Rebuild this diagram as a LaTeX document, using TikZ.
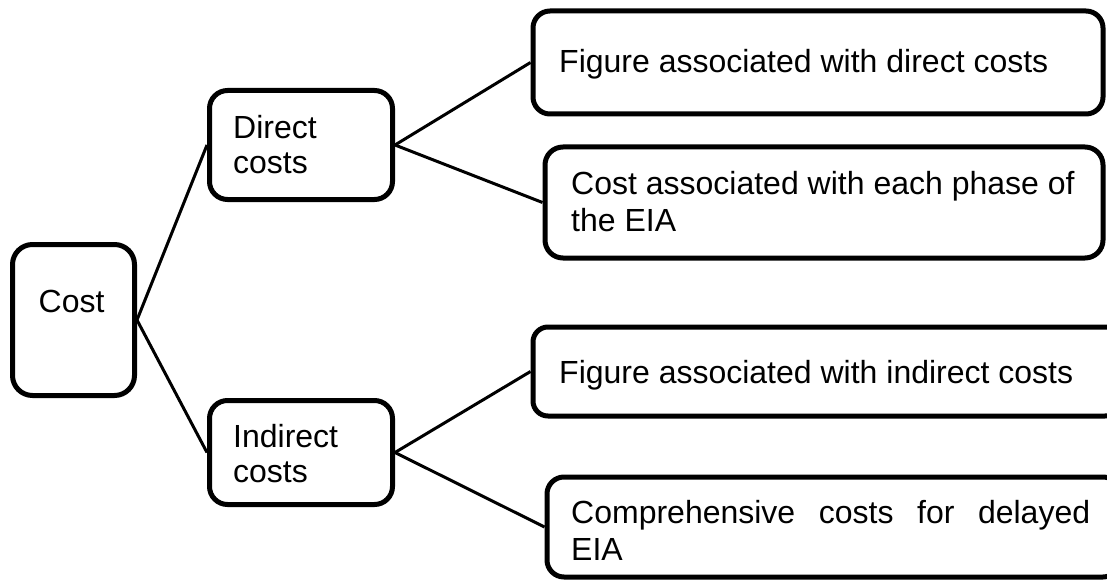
\documentclass[tikz,border=0pt]{standalone}
\usepackage{fontspec}
\setmainfont{Liberation Sans}
% two lines stacked with a given baseline distance; the baseline is the first line's
\newcommand{\stacklines}[3]{\vtop{\baselineskip=#1\relax\hbox{#2}\hbox{#3}}}
\begin{document}
\begin{tikzpicture}[x=1pt,y=-1pt,
  box/.style={draw=black, fill=white, line width=5pt, rectangle,
              rounded corners=#1, inner sep=0pt},
  box/.default=17pt,
  txt/.style={inner sep=0pt, anchor=base west,
              font=\fontsize{32}{37}\selectfont},
  link/.style={draw=black, line width=3pt}]
\useasboundingbox (0,0) rectangle (1107,580);
\clip (0,0) rectangle (1107,580);

% boxes
\node[box=20pt, minimum width=122pt, minimum height=151pt] (cost) at (73.5,320) {};
\node[box=18pt, minimum width=183pt, minimum height=109pt] (direct) at (301,145) {};
\node[box=18pt, minimum width=183pt, minimum height=104pt] (indirect) at (301,452.5) {};
\node[box=17pt, minimum width=570pt, minimum height=103pt] (figdir) at (818,62.5) {};
\node[box=18pt, minimum width=558pt, minimum height=111pt] (phase) at (824,202.5) {};
\node[box=15pt, minimum width=587pt, minimum height=89pt] (figind) at (826.5,371.5) {};
\node[box=17pt, minimum width=573pt, minimum height=100pt] (delay) at (833.5,527) {};

% connectors
\draw[link] (cost.east) -- (direct.west);
\draw[link] (cost.east) -- (indirect.west);
\draw[link] (direct.east) -- (figdir.west);
\draw[link] (direct.east) -- (phase.west);
\draw[link] (indirect.east) -- (figind.west);
\draw[link] (indirect.east) -- (delay.west);

% texts
\node[txt] (cost-t) at (38.5,312) {Cost};
\node[txt] (direct-t) at (233,139) {\stacklines{34.5pt}{Direct}{costs}};
\node[txt] (indirect-t) at (233,447) {\stacklines{35pt}{Indirect}{costs}};
\node[txt] (figdir-t) at (559,73) {Figure associated with direct costs};
\node[txt] (phase-t) at (571,194) {\stacklines{37.5pt}{Cost associated with each phase of}{the EIA}};
\node[txt] (figind-t) at (559,383) {Figure associated with indirect costs};
\node[txt] (delay-t) at (571,523.3) {\stacklines{36.7pt}{\hbox to 519pt{Comprehensive\hfill costs\hfill for\hfill delayed}}{EIA}};
\end{tikzpicture}
\end{document}
